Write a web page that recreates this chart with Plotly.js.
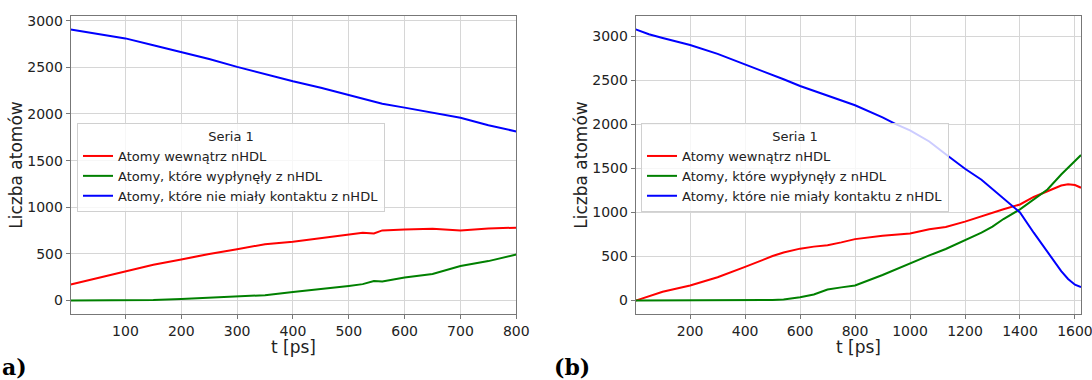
<!DOCTYPE html>
<html>
<head>
<meta charset="utf-8">
<script src="https://cdn.plot.ly/plotly-3.0.1.min.js"></script>
<style>html,body{margin:0;padding:0;background:#fff;}#chart{width:1092px;height:380px;}</style>
</head>
<body>
<div id="chart"></div>
<script>
// ---- Data: panel (a) ----
const tA = [2, 50, 100, 150, 200, 250, 300, 350, 400, 450, 500, 525, 545, 560, 600, 650, 700, 750, 800];
const insideA = [172, 240, 310, 383, 441, 500, 550, 604, 630, 668, 712, 727, 719, 752, 763, 770, 750, 773, 781];
const outA = [0, 1, 2, 7, 18, 31, 44, 58, 92, 121, 157, 176, 209, 205, 247, 285, 370, 423, 493];
const noContactA = [2905, 2856, 2810, 2736, 2666, 2590, 2505, 2427, 2350, 2281, 2206, 2165, 2135, 2110, 2068, 2013, 1960, 1880, 1812];

// ---- Data: panel (b) ----
const tB = [2, 50, 100, 200, 300, 400, 500, 540, 600, 650, 700, 750, 800, 900, 950, 1000, 1070, 1130, 1200, 1260, 1300, 1340, 1400, 1450, 1500, 1550, 1575, 1600, 1622];
const insideB = [0, 52, 100, 171, 265, 382, 505, 545, 589, 612, 628, 660, 697, 735, 745, 760, 808, 835, 895, 958, 1000, 1035, 1090, 1175, 1240, 1305, 1320, 1310, 1280];
const outB = [0, 0, 0, 0, 1, 3, 8, 12, 38, 70, 125, 150, 172, 290, 356, 428, 512, 585, 685, 770, 838, 925, 1035, 1150, 1260, 1430, 1510, 1590, 1650];
const noContactB = [3076, 3020, 2978, 2898, 2797, 2677, 2563, 2510, 2433, 2380, 2327, 2272, 2215, 2078, 1998, 1930, 1804, 1660, 1495, 1370, 1262, 1160, 1000, 770, 545, 335, 245, 180, 152];

const seriesNames = ["Atomy wewnątrz nHDL", "Atomy, które wypłynęły z nHDL", "Atomy, które nie miały kontaktu z nHDL"];
const seriesColors = ["#ff0000", "#008000", "#0000ff"];
const legendTitle = "Seria 1";
const yTitle = "Liczba atomów";
const xTitle = "t [ps]";
const panelLabels = ["a)", "(b)"];

const FONT = "DejaVu Sans, sans-serif";
function mk(x, y, i, xa, ya, leg) {
  return {x: x, y: y, type: "scatter", mode: "lines", name: seriesNames[i],
    line: {color: seriesColors[i], width: 2}, xaxis: xa, yaxis: ya, legend: leg};
}
const traces = [
  mk(tA, insideA, 0, "x", "y", "legend"),
  mk(tA, outA, 1, "x", "y", "legend"),
  mk(tA, noContactA, 2, "x", "y", "legend"),
  mk(tB, insideB, 0, "x2", "y2", "legend2"),
  mk(tB, outB, 1, "x2", "y2", "legend2"),
  mk(tB, noContactB, 2, "x2", "y2", "legend2"),
];

const W = 1092, H = 380, T = 16, B = 66.3;
const PH = H - T - B;
const domA = [70.7 / W, 516.3 / W], domB = [635.7 / W, 1081 / W];
function axBase() {
  return {showline: true, linecolor: "#777", linewidth: 1, mirror: true,
    showgrid: true, gridcolor: "#d6d6d6", gridwidth: 1, zeroline: false,
    ticks: "outside", ticklen: 4, tickcolor: "#777", tickwidth: 1,
    ticklabeloverflow: "allow",
    tickfont: {family: FONT, size: 14, color: "#222"}, automargin: false};
}
function legendCfg(xpx) {
  return {x: xpx / W, y: (H - B - 123) / PH, xanchor: "left", yanchor: "top",
    bgcolor: "rgba(255,255,255,0.8)", bordercolor: "#d0d0d0", borderwidth: 1,
    font: {family: FONT, size: 13, color: "#222"},
    title: {text: legendTitle, side: "top center", font: {family: FONT, size: 13, color: "#222"}},
    tracegroupgap: 0, itemwidth: 30};
}
function xTitleAnn(dom) {
  return {text: xTitle, xref: "paper", yref: "paper", x: (dom[0] + dom[1]) / 2, y: (H - B - 335) / PH,
    xanchor: "center", yanchor: "top", showarrow: false, font: {family: FONT, size: 17, color: "#222"}};
}

const layout = {
  width: W, height: H,
  margin: {l: 0, r: 0, t: T, b: B, pad: 0},
  paper_bgcolor: "#fff", plot_bgcolor: "#fff",
  showlegend: true,
  xaxis: Object.assign(axBase(), {domain: domA, range: [2, 800], tickvals: [100, 200, 300, 400, 500, 600, 700, 800]}),
  yaxis: Object.assign(axBase(), {domain: [0, 1], range: [-144, 3050], tickvals: [0, 500, 1000, 1500, 2000, 2500, 3000],
    title: {text: yTitle, font: {family: FONT, size: 17, color: "#222"}, standoff: 0}}),
  xaxis2: Object.assign(axBase(), {domain: domB, range: [2, 1622], tickvals: [200, 400, 600, 800, 1000, 1200, 1400, 1600], anchor: "y2"}),
  yaxis2: Object.assign(axBase(), {domain: [0, 1], range: [-152, 3227], tickvals: [0, 500, 1000, 1500, 2000, 2500, 3000], anchor: "x2",
    title: {text: yTitle, font: {family: FONT, size: 17, color: "#222"}, standoff: 0}}),
  legend: legendCfg(77),
  legend2: legendCfg(641),
  annotations: [
    xTitleAnn(domA),
    xTitleAnn(domB),
    {text: "<b>" + panelLabels[0] + "</b>", xref: "paper", yref: "paper", x: 0, y: (H - B - 367) / PH,
     xanchor: "left", yanchor: "middle", showarrow: false, font: {family: "DejaVu Serif, serif", size: 22, color: "#000"}},
    {text: "<b>" + panelLabels[1] + "</b>", xref: "paper", yref: "paper", x: 552 / W, y: (H - B - 367) / PH,
     xanchor: "left", yanchor: "middle", showarrow: false, font: {family: "DejaVu Serif, serif", size: 22, color: "#000"}}
  ]
};

Plotly.newPlot("chart", traces, layout, {staticPlot: true, displayModeBar: false});
</script>
</body>
</html>
